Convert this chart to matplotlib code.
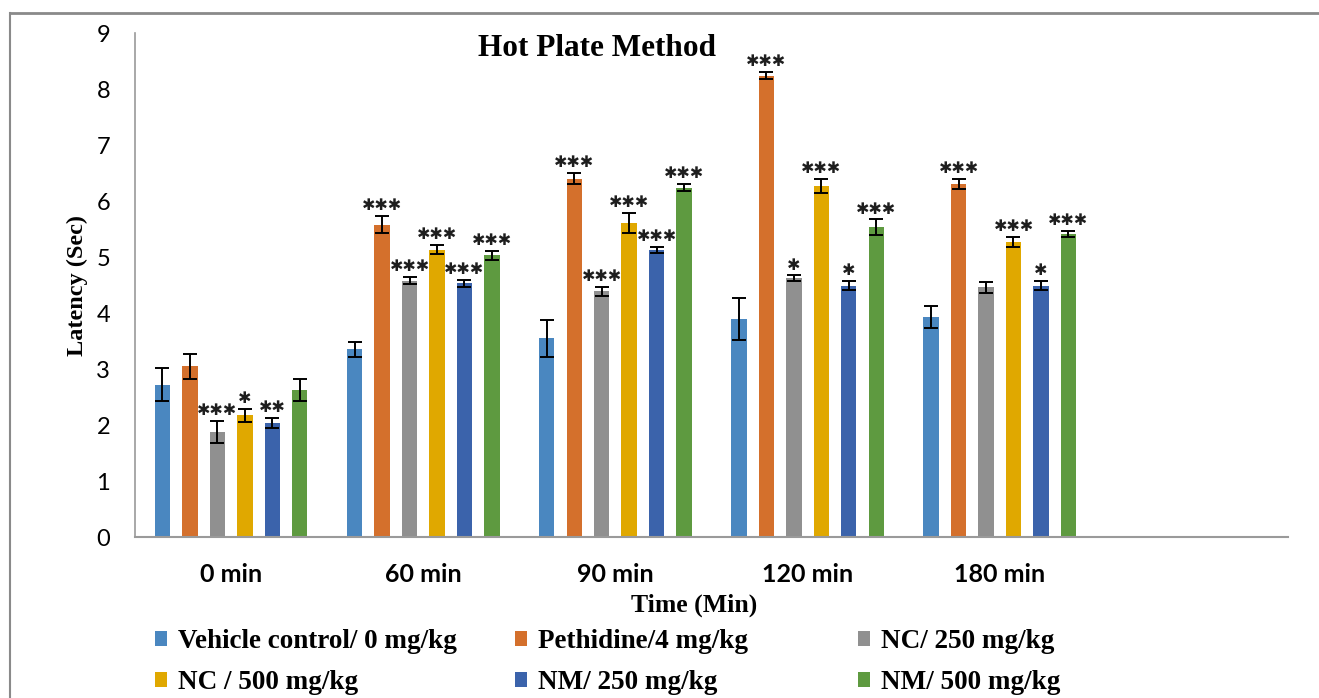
import numpy as np
import matplotlib
matplotlib.use('Agg')
import matplotlib.pyplot as plt
from matplotlib.patches import Patch
from matplotlib.lines import Line2D

# Data
times = ['0 min', '60 min', '90 min', '120 min', '180 min']
groups = ['Vehicle control/ 0 mg/kg', 'Pethidine/4 mg/kg', 'NC/ 250 mg/kg',
          'NC / 500 mg/kg', 'NM/ 250 mg/kg', 'NM/ 500 mg/kg']

vehicle = [2.72, 3.35, 3.55, 3.89, 3.93]
pethidine = [3.05, 5.58, 6.40, 8.24, 6.31]
nc250 = [1.88, 4.58, 4.39, 4.62, 4.46]
nc500 = [2.17, 5.13, 5.60, 6.27, 5.27]
nm250 = [2.03, 4.53, 5.13, 4.49, 4.49]
nm500 = [2.63, 5.03, 6.24, 5.53, 5.41]

vehicle_err = [0.30, 0.14, 0.33, 0.38, 0.20]
pethidine_err = [0.22, 0.15, 0.10, 0.07, 0.09]
nc250_err = [0.20, 0.07, 0.08, 0.05, 0.10]
nc500_err = [0.11, 0.08, 0.18, 0.13, 0.09]
nm250_err = [0.09, 0.06, 0.05, 0.08, 0.08]
nm500_err = [0.20, 0.08, 0.06, 0.14, 0.05]

vehicle_sig = ['', '', '', '', '']
pethidine_sig = ['', '***', '***', '***', '***']
nc250_sig = ['***', '***', '***', '*', '']
nc500_sig = ['*', '***', '***', '***', '***']
nm250_sig = ['**', '***', '***', '*', '*']
nm500_sig = ['', '***', '***', '***', '***']

values = [vehicle, pethidine, nc250, nc500, nm250, nm500]
errors = [vehicle_err, pethidine_err, nc250_err, nc500_err, nm250_err, nm500_err]
sigs = [vehicle_sig, pethidine_sig, nc250_sig, nc500_sig, nm250_sig, nm500_sig]
colors = ['#4a87c0', '#d4702c', '#909090', '#e0a800', '#3b63ab', '#5e9a40']

serif = 'Liberation Serif'
sans = 'Lato'

fig = plt.figure(figsize=(13.19, 6.98), dpi=100)
ax = fig.add_axes([135 / 1319, 1 - 537 / 698, (1288 - 135) / 1319, (537 - 33) / 698])

x = np.arange(len(times))
stride = 0.143
width = 0.08
for i in range(len(groups)):
    xs = x + (i - 2.5) * stride
    ax.bar(xs, values[i], width, color=colors[i], zorder=2)
    ax.errorbar(xs, values[i], yerr=errors[i], fmt='none', ecolor='black',
                elinewidth=1.4, capsize=5, capthick=1.4, zorder=3)
    for j in range(len(times)):
        if sigs[i][j]:
            stars = '\u2731' * len(sigs[i][j])
            ax.annotate(stars, (xs[j], values[i][j] + errors[i][j]),
                        xytext=(0, 7.5), textcoords='offset points',
                        ha='center', va='center', fontsize=11.5,
                        family='DejaVu Sans', color='#1e1e1e', zorder=4)

ax.set_xlim(-0.5, 5.5)
ax.set_ylim(0, 9)
ax.set_yticks(range(10))
ax.set_xticks(x)
ax.set_xticklabels(times, fontsize=18, fontweight='bold', family=sans)
for lbl in ax.get_yticklabels():
    lbl.set_fontsize(17)
    lbl.set_family(sans)
ax.tick_params(axis='both', length=0)
ax.tick_params(axis='y', pad=18)
ax.tick_params(axis='x', pad=19)
for s in ['top', 'right']:
    ax.spines[s].set_visible(False)
ax.spines['left'].set_color('#9a9a9a')
ax.spines['bottom'].set_color('#9a9a9a')
ax.spines['left'].set_linewidth(1.2)
ax.spines['bottom'].set_linewidth(1.5)

ax.set_ylabel('Latency (Sec)', fontsize=17.5, fontweight='bold', family=serif, labelpad=6)
fig.text(694 / 1319, 1 - 605 / 698, 'Time (Min)', ha='center', va='center',
         fontsize=18.5, fontweight='bold', family=serif)
fig.text(597 / 1319, 1 - 48 / 698, 'Hot Plate Method', ha='center', va='center',
         fontsize=22.5, fontweight='bold', family=serif)

# legend, laid out in three columns like the original
col_x = [155, 515, 858]
for c in range(3):
    idx = [c, c + 3]
    handles = [Patch(facecolor=colors[k], edgecolor='none') for k in idx]
    fig.legend(handles, [groups[k] for k in idx], loc='upper left',
               bbox_to_anchor=(col_x[c] / 1319, 1 - 629 / 698),
               frameon=False, handlelength=0.45, handleheight=0.45,
               handletextpad=0.4, labelspacing=0.6,
               prop={'family': serif, 'weight': 'bold', 'size': 19.5},
               borderaxespad=0, borderpad=0)

# outer frame of the picture
fig.add_artist(Line2D([10 / 1319, 1], [1 - 13 / 698, 1 - 13 / 698],
                      color='#8a8a8a', lw=2, transform=fig.transFigure))
fig.add_artist(Line2D([10 / 1319, 10 / 1319], [0, 1 - 13 / 698],
                      color='#8a8a8a', lw=1.5, transform=fig.transFigure))

fig.savefig('out.png', dpi=100)
